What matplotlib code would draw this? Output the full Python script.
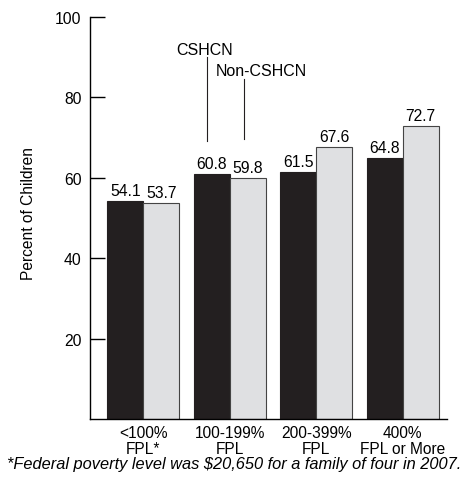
import matplotlib.pyplot as plt
import numpy as np

plt.rcParams['font.family'] = ['Liberation Sans', 'DejaVu Sans']

groups = ['<100%\nFPL*', '100-199%\nFPL', '200-399%\nFPL', '400%\nFPL or More']
cshcn = [54.1, 60.8, 61.5, 64.8]
non_cshcn = [53.7, 59.8, 67.6, 72.7]
yticks = [20, 40, 60, 80, 100]

fig = plt.figure(figsize=(4.68, 4.81), dpi=100)
ax = fig.add_axes([0.1923, 0.126, 0.7627, 0.8376])

x = np.arange(len(groups))
w = 0.415
ax.bar(x - w / 2, cshcn, w, color='#231f20', edgecolor='#231f20', linewidth=0.8)
ax.bar(x + w / 2, non_cshcn, w, color='#dfe0e2', edgecolor='#444444', linewidth=0.8)

# value labels
for xi, v in zip(x - w / 2, cshcn):
    ax.text(xi, v + 1.5, f'{v:.1f}', ha='center', va='baseline', fontsize=11.3)
for xi, v in zip(x + w / 2, non_cshcn):
    ax.text(xi, v + 1.5, f'{v:.1f}', ha='center', va='baseline', fontsize=11.3)

ax.set_xlim(-0.615, 3.51)
ax.set_ylim(0, 100)
ax.set_yticks(yticks)
ax.set_xticks(x)
ax.set_xticklabels(groups, fontsize=11.2, linespacing=1.12)
ax.tick_params(axis='x', length=0, pad=4)
ax.tick_params(axis='y', direction='in', length=11, width=1, labelsize=11.3, pad=6)
for s in ['top', 'right']:
    ax.spines[s].set_visible(False)
for s in ['left', 'bottom']:
    ax.spines[s].set_linewidth(1)

# callouts
ax.plot([0.74, 0.74], [69.1, 89.9], color='#231f20', lw=0.8)
ax.text(0.71, 91.9, 'CSHCN', ha='center', va='center', fontsize=11.5)
ax.plot([1.17, 1.17], [69.7, 84.4], color='#231f20', lw=0.8)
ax.text(1.37, 86.7, 'Non-CSHCN', ha='center', va='center', fontsize=11.5)

fig.text(0.06, 0.557, 'Percent of Children', rotation=90, ha='center', va='center', fontsize=11.2)
fig.text(0.5, 0.035, '*Federal poverty level was $20,650 for a family of four in 2007.',
         ha='center', va='center', fontsize=11.8, style='italic')

fig.savefig('out.png', dpi=100)
